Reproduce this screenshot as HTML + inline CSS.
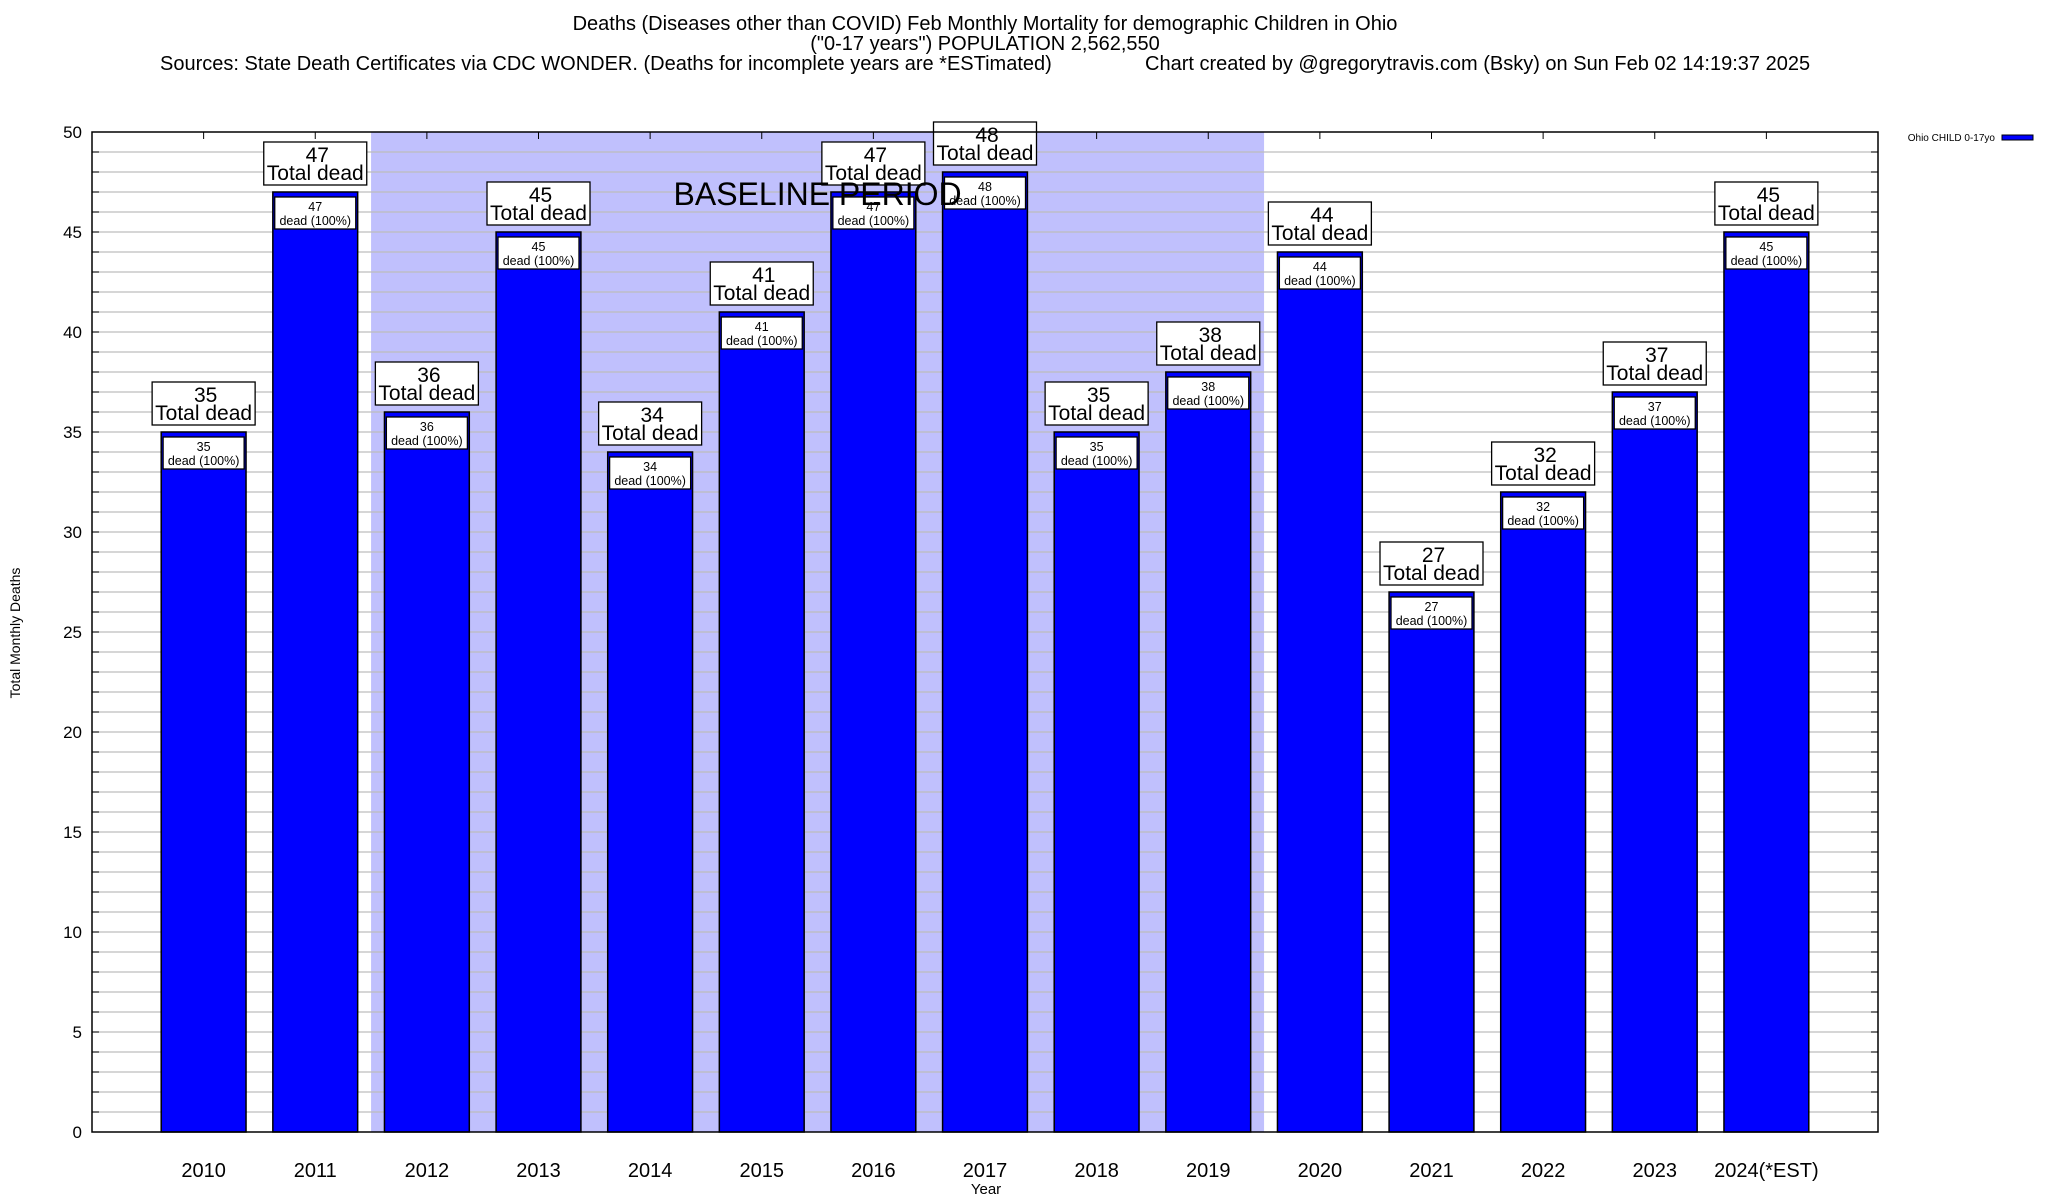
<!DOCTYPE html>
<html><head><meta charset="utf-8"><style>
html,body{margin:0;padding:0;background:#fff;}
svg{display:block;font-family:"Liberation Sans",Arial,sans-serif;}
</style></head><body>
<svg id="chart" width="2048" height="1200" xmlns="http://www.w3.org/2000/svg">
<text x="985" y="30" font-size="20" text-anchor="middle">Deaths (Diseases other than COVID) Feb Monthly Mortality for demographic Children in Ohio</text>
<text x="985" y="50" font-size="20" text-anchor="middle">("0-17 years") POPULATION 2,562,550</text>
<text x="160" y="70" font-size="20">Sources: State Death Certificates via CDC WONDER. (Deaths for incomplete years are *ESTimated)</text>
<text x="1145" y="70" font-size="20">Chart created by @gregorytravis.com (Bsky) on Sun Feb 02 14:19:37 2025</text>
<text transform="translate(20,633) rotate(-90)" font-size="14" text-anchor="middle">Total Monthly Deaths</text>
<text x="986" y="1194" font-size="15" text-anchor="middle">Year</text>
<g id="legend">
<text x="1995" y="141" font-size="10" text-anchor="end">Ohio CHILD 0-17yo</text>
<rect x="2002" y="135" width="31" height="5" fill="#0000ff" stroke="#000" stroke-width="1"/>
</g>
<g id="plot"></g>
</svg>
<script>
const categories=["2010","2011","2012","2013","2014","2015","2016","2017","2018","2019","2020","2021","2022","2023","2024(*EST)"];
const deaths=[35,47,36,45,34,41,47,48,35,38,44,27,32,37,45];
const yTicks=[0,5,10,15,20,25,30,35,40,45,50];
const baselineStart="2012", baselineEnd="2019";

const L=92,R=1878,T=132,B=1132,YMAX=50;
const step=(R-L)/(categories.length+1);
const xs=i=>L+(i+1)*step;
const ys=v=>B-(v/YMAX)*(B-T);
const NS="http://www.w3.org/2000/svg";
const g=document.getElementById('plot');
function mk(tag,attrs,parent){const e=document.createElementNS(NS,tag);for(const k in attrs)e.setAttribute(k,attrs[k]);(parent||g).appendChild(e);return e;}

const bi0=categories.indexOf(baselineStart),bi1=categories.indexOf(baselineEnd);
const shade=mk('rect',{x:xs(bi0)-step/2,y:T,width:(bi1-bi0+1)*step,height:B-T,fill:'#c0c0fd'});



for(let v=1;v<YMAX;v++){
  const l=mk('line',{x1:L,x2:R,y1:ys(v),y2:ys(v),stroke:'#bdbdbd','stroke-width':1.3});
  
  
  mk('line',{x1:L,x2:L+7,y1:ys(v),y2:ys(v),stroke:'#000','stroke-width':1});
  mk('line',{x1:R-7,x2:R,y1:ys(v),y2:ys(v),stroke:'#000','stroke-width':1});
}
yTicks.forEach(v=>{
  const t=mk('text',{x:L-10,y:ys(v)+6,'font-size':17,'text-anchor':'end'});
  t.textContent=v;
  
  
});
const bw=step*0.76;
categories.forEach((c,i)=>{
  const v=deaths[i],cx=xs(i),top=ys(v);
  mk('line',{x1:cx,x2:cx,y1:T,y2:T+7,stroke:'#000','stroke-width':1});
  const b=mk('rect',{x:cx-bw/2,y:top,width:bw,height:B-top,fill:'#0000ff',stroke:'#000','stroke-width':1.5});
  
  
  const ib=mk('rect',{x:cx-40.5,y:top+5,width:81,height:32,fill:'#fff',stroke:'#000','stroke-width':1.3});
  
  
  const t1=mk('text',{x:cx,y:top+19,'font-size':12.5,'text-anchor':'middle'});t1.textContent=v;
  
  
  const t2=mk('text',{x:cx,y:top+33,'font-size':12.5,'text-anchor':'middle'});t2.textContent='dead (100%)';
  
  
  const ob=mk('rect',{x:cx-51.5,y:top-50,width:103,height:43,fill:'#fff',stroke:'#000','stroke-width':1.3});
  
  
  const o1=mk('text',{x:cx+2,y:top-30,'font-size':21,'text-anchor':'middle'});o1.textContent=v;
  
  
  const o2=mk('text',{x:cx,y:top-12,'font-size':21,'text-anchor':'middle'});o2.textContent='Total dead';
  
  
  const xl=mk('text',{x:cx,y:1177,'font-size':20,'text-anchor':'middle'});xl.textContent=c;
  
  
});
const bt=mk('text',{x:xs(bi0)-step/2+(bi1-bi0+1)*step/2,y:205,'font-size':32,'text-anchor':'middle'});
bt.textContent='BASELINE PERIOD';


const fr=mk('rect',{x:L,y:T,width:R-L,height:B-T,fill:'none',stroke:'#000','stroke-width':1.5});


</script>
</body></html>
